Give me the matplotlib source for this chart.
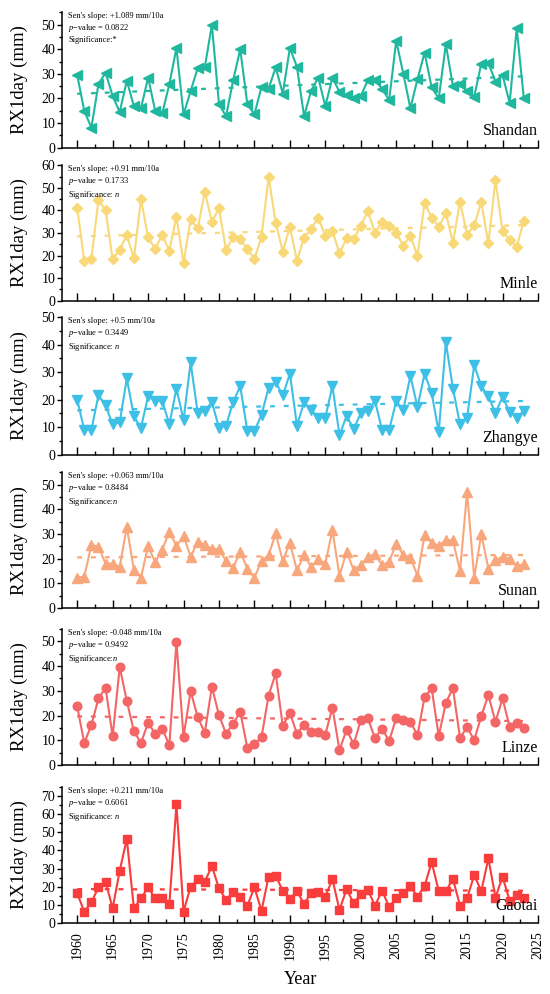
import matplotlib
matplotlib.use("Agg")
import matplotlib.pyplot as plt
from matplotlib.ticker import MultipleLocator

plt.rcParams['font.family'] = ['Liberation Serif', 'DejaVu Serif']
plt.rcParams['mathtext.fontset'] = 'custom'
plt.rcParams['mathtext.rm'] = 'Liberation Serif'
plt.rcParams['mathtext.it'] = 'Liberation Serif:italic'

years = list(range(1960, 2024))

stations = ["Shandan", "Minle", "Zhangye", "Sunan", "Linze", "Gaotai"]

shandan = [29.6, 14.9, 8.2, 25.8, 30.5, 21.0, 14.5, 27.2, 16.9, 16.0,
           28.5, 15.0, 14.0, 25.8, 40.5, 13.5, 23.0, 32.3, 32.7, 49.9,
           17.7, 12.8, 27.4, 40.0, 17.7, 13.6, 24.7, 24.0, 32.6, 22.0,
           40.5, 32.8, 12.8, 23.1, 28.5, 16.9, 28.4, 22.7, 21.4, 20.0,
           21.0, 27.4, 27.4, 24.0, 19.3, 43.4, 30.1, 16.0, 27.8, 38.6,
           24.5, 20.0, 42.0, 25.0, 25.8, 23.1, 20.7, 34.2, 34.5, 26.8,
           29.5, 18.2, 48.6, 20.0]
minle = [41.2, 17.6, 18.5, 44.6, 40.2, 18.3, 22.5, 29.1, 18.8, 45.0,
         28.1, 22.9, 29.1, 22.2, 37.2, 16.8, 36.0, 32.0, 48.3, 35.0,
         40.9, 22.5, 28.1, 27.2, 22.9, 18.5, 28.4, 54.9, 34.6, 21.7,
         32.8, 17.7, 27.9, 31.8, 36.8, 28.8, 30.9, 21.0, 27.6, 27.2,
         33.1, 39.7, 30.1, 35.0, 33.1, 30.1, 24.4, 28.8, 19.8, 43.4,
         36.8, 32.8, 38.7, 25.7, 43.9, 29.1, 33.5, 43.6, 25.4, 53.5,
         30.9, 26.9, 23.9, 35.5]
zhangye = [20.0, 9.0, 9.0, 21.6, 17.9, 11.0, 11.8, 27.7, 13.9, 9.8,
           21.2, 19.6, 19.6, 11.0, 24.0, 12.6, 33.5, 15.1, 16.0, 19.1,
           9.8, 10.6, 19.1, 24.9, 8.6, 8.6, 14.5, 24.3, 26.4, 21.5,
           29.4, 10.6, 19.0, 16.3, 13.5, 13.5, 24.9, 7.1, 14.1, 9.3,
           15.1, 15.7, 19.6, 9.0, 9.0, 19.4, 16.3, 28.6, 17.3, 29.4,
           22.5, 8.1, 40.9, 24.0, 11.0, 13.5, 32.5, 24.9, 21.2, 15.1,
           21.0, 15.5, 13.5, 16.0]
sunan = [12.3, 12.7, 25.5, 24.8, 18.0, 18.0, 16.7, 32.9, 15.4, 12.3,
         25.2, 18.5, 23.7, 30.9, 25.2, 29.2, 20.8, 26.8, 25.7, 23.9,
         23.9, 19.0, 16.3, 22.8, 16.0, 12.3, 19.0, 21.4, 30.2, 19.0,
         26.5, 15.2, 21.4, 16.7, 19.8, 18.0, 31.5, 13.1, 22.8, 15.4,
         17.4, 20.8, 21.8, 17.4, 18.7, 26.1, 21.4, 20.4, 13.1, 29.5,
         26.5, 25.2, 27.5, 27.5, 15.0, 47.0, 12.3, 29.9, 16.0, 19.4,
         20.8, 19.8, 17.0, 17.7]
linze = [23.7, 9.0, 16.2, 26.9, 31.2, 11.7, 39.6, 25.9, 13.7, 9.0,
         17.1, 12.7, 14.8, 8.1, 49.7, 11.4, 29.9, 19.4, 13.1, 31.6,
         20.2, 12.7, 16.8, 21.5, 7.0, 8.6, 11.3, 28.1, 37.0, 15.9,
         21.2, 12.7, 16.4, 13.5, 13.5, 12.4, 23.2, 6.1, 14.4, 8.4,
         18.2, 18.9, 11.0, 14.8, 9.7, 19.1, 18.2, 17.5, 12.1, 27.5,
         31.0, 11.7, 25.2, 31.0, 11.0, 15.4, 10.1, 19.8, 28.3, 17.5,
         26.9, 15.5, 17.1, 15.1]
gaotai = [16.5, 6.4, 11.5, 19.7, 22.9, 8.2, 28.9, 46.3, 8.2, 13.7,
          19.7, 13.7, 14.1, 10.4, 65.3, 6.4, 20.1, 24.1, 22.9, 31.4,
          19.2, 12.8, 17.0, 14.6, 9.7, 19.7, 6.9, 25.6, 26.1, 17.9,
          13.2, 17.7, 10.6, 16.8, 17.0, 14.6, 24.3, 7.3, 18.8, 11.0,
          16.1, 18.3, 9.7, 17.9, 9.1, 13.7, 16.8, 20.5, 14.6, 20.5,
          33.5, 17.7, 17.7, 24.3, 9.7, 13.7, 26.5, 17.7, 35.6, 14.1,
          25.6, 12.4, 15.5, 13.7]

series = [shandan, minle, zhangye, sunan, linze, gaotai]

# trend line values at first and last year
trend_start = [21.9, 28.5, 16.1, 20.5, 19.7, 18.8]
trend_end = [29.0, 33.5, 19.5, 21.5, 17.8, 17.9]

slopes = ["+1.089", "+0.91", "+0.5", "+0.063", "-0.048", "+0.211"]
pvalues = ["0.0822", "0.1733", "0.3449", "0.8484", "0.9492", "0.6061"]
signif = [":*", r": $\it{n}$", r": $\it{n}$", r":$\it{n}$", r":$\it{n}$", r": $\it{n}$"]

ymax = [55, 60, 50, 55, 55, 75]

colors = ["#1fb89f", "#f9d878", "#3ec0e6", "#f8a77c", "#f46565", "#f93c3c"]
markers = ["<", "D", "v", "^", "o", "s"]
msizes = [6.5, 5.5, 6.5, 6.5, 6.2, 5.8]

W, H = 550, 994
fig = plt.figure(figsize=(W / 100, H / 100), dpi=100)

left_px, right_px = 62.3, 538.0
tops = [12.3, 165.3, 317.0, 472.3, 628.7, 786.7]
bottoms = [147.7, 300.7, 454.7, 608.0, 765.3, 923.3]

for i in range(6):
    ax = fig.add_axes([left_px / W, 1 - bottoms[i] / H,
                       (right_px - left_px) / W, (bottoms[i] - tops[i]) / H])
    c = colors[i]
    ax.plot(years, series[i], color=c, lw=1.5, marker=markers[i],
            ms=msizes[i], mfc=c, mec=c, zorder=3)
    ax.plot([years[0], years[-1]], [trend_start[i], trend_end[i]],
            color=c, lw=1.6, ls=(0, (2.2, 4.0)), zorder=2)
    ax.set_xlim(1957.9, 2025)
    ax.set_ylim(0, ymax[i])
    ax.xaxis.set_major_locator(MultipleLocator(5))
    ax.xaxis.set_minor_locator(MultipleLocator(2.5))
    ax.yaxis.set_major_locator(MultipleLocator(10))
    ax.yaxis.set_minor_locator(MultipleLocator(5))
    for s in ["top", "right"]:
        ax.spines[s].set_visible(False)
    for s in ["left", "bottom"]:
        ax.spines[s].set_linewidth(1.1)
    ax.tick_params(axis='x', which='major', direction='in', length=5.5, width=1.0)
    ax.tick_params(axis='x', which='minor', direction='in', length=3.0, width=1.0)
    ax.tick_params(axis='y', which='major', direction='out', length=3.5, width=1.0,
                   labelsize=10, pad=1.5)
    ax.tick_params(axis='y', which='minor', direction='out', length=2.0, width=1.0)
    if i < 5:
        ax.tick_params(axis='x', labelbottom=False)
    else:
        ax.tick_params(axis='x', labelsize=10, labelrotation=90, pad=6)
        ax.set_xlabel("Year", fontsize=13, labelpad=8)
    ax.set_ylabel("RX1day (mm)", fontsize=13.5)
    ax.yaxis.set_label_coords(-0.073, 0.5)
    txt = ("Sen's slope: " + slopes[i] + " mm/10a\n"
           + r"$\it{p}$" + "\u2212value = " + pvalues[i] + "\n"
           + "Significance" + signif[i])
    ax.text(0.012, 1.0, txt, transform=ax.transAxes, fontsize=6,
            va='top', ha='left', linespacing=1.25)
    ax.text(1.0, 0.095, stations[i], transform=ax.transAxes, fontsize=11.5,
            ha='right', va='baseline')

fig.savefig("out.png", dpi=100)
